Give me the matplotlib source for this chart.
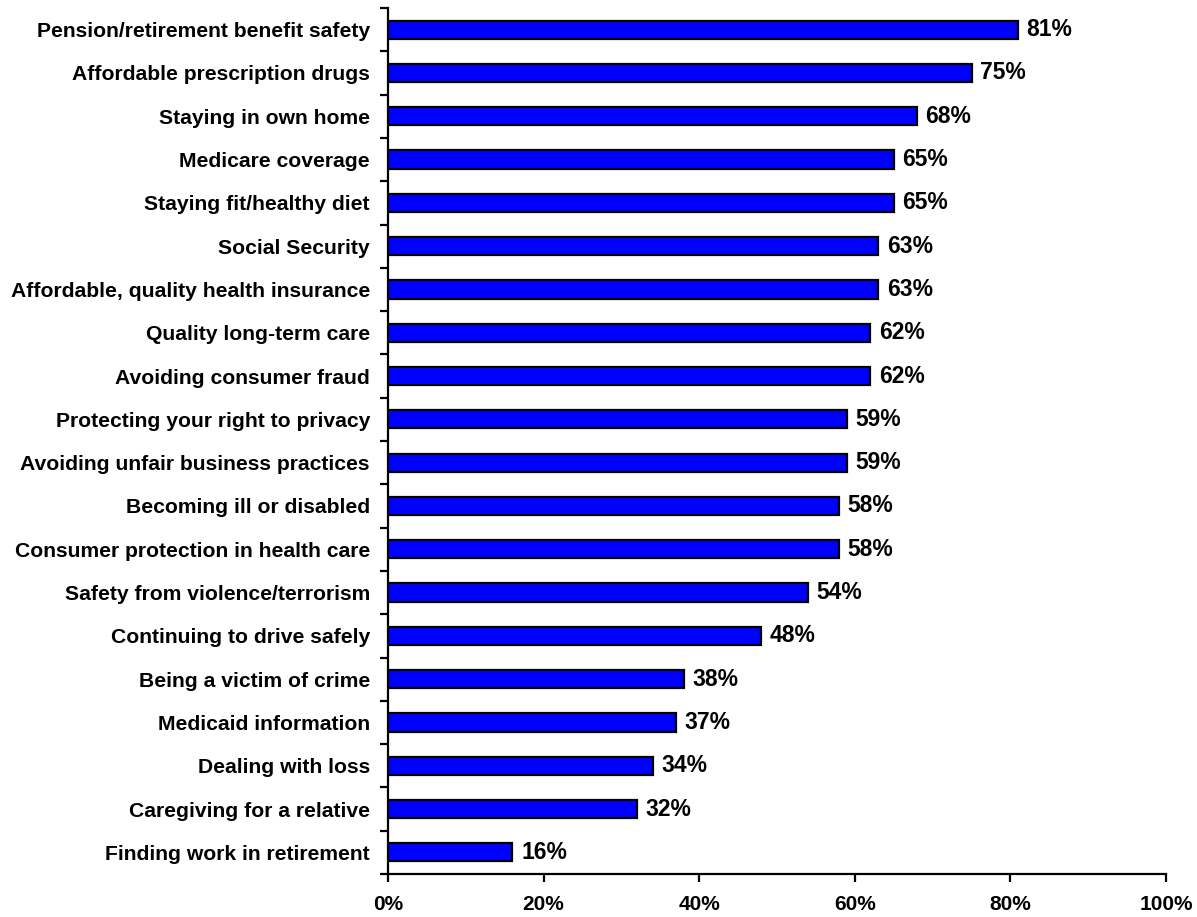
import matplotlib
matplotlib.use("Agg")
import matplotlib.pyplot as plt
import numpy as np
from matplotlib.ticker import FixedLocator, FuncFormatter

categories = [
    "Pension/retirement benefit safety",
    "Affordable prescription drugs",
    "Staying in own home",
    "Medicare coverage",
    "Staying fit/healthy diet",
    "Social Security",
    "Affordable, quality health insurance",
    "Quality long-term care",
    "Avoiding consumer fraud",
    "Protecting your right to privacy",
    "Avoiding unfair business practices",
    "Becoming ill or disabled",
    "Consumer protection in health care",
    "Safety from violence/terrorism",
    "Continuing to drive safely",
    "Being a victim of crime",
    "Medicaid information",
    "Dealing with loss",
    "Caregiving for a relative",
    "Finding work in retirement",
]
values = [81, 75, 68, 65, 65, 63, 63, 62, 62, 59, 59, 58, 58, 54, 48, 38, 37, 34, 32, 16]
x_ticks = [0, 20, 40, 60, 80, 100]

plt.rcParams["font.family"] = ["Liberation Sans", "DejaVu Sans"]
plt.rcParams["font.weight"] = "bold"

fig = plt.figure(figsize=(11.97, 9.17), dpi=100)
ax = fig.add_axes([388 / 1197, 1 - 874 / 917, (1166 - 388) / 1197, (874 - 8) / 917])

y = np.arange(len(categories))
ax.barh(y, values, height=0.42, color="#0000FF", edgecolor="black", linewidth=1.6, zorder=3)

for yi, v in zip(y, values):
    ax.text(v + 1.1, yi, f"{v}%", va="center", ha="left", fontsize=16.5, fontweight="bold")

ax.set_xlim(0, 100)
ax.set_ylim(len(categories) - 0.5, -0.5)

ax.set_yticks(y)
ax.set_yticklabels(categories, fontsize=15.2, fontweight="bold")
ax.yaxis.set_minor_locator(FixedLocator(np.arange(-0.5, len(categories), 1.0)))
ax.tick_params(axis="y", which="major", length=0, pad=13)
ax.tick_params(axis="y", which="minor", length=6, width=1.6, direction="out")

ax.set_xticks(x_ticks)
ax.xaxis.set_major_formatter(FuncFormatter(lambda v, p: f"{int(v)}%"))
ax.tick_params(axis="x", which="major", length=6, width=1.6, direction="out", pad=9, labelsize=15)
for lab in ax.get_xticklabels():
    lab.set_fontweight("bold")

for side in ["top", "right"]:
    ax.spines[side].set_visible(False)
for side in ["left", "bottom"]:
    ax.spines[side].set_linewidth(1.6)

fig.savefig("out.png", dpi=100)
